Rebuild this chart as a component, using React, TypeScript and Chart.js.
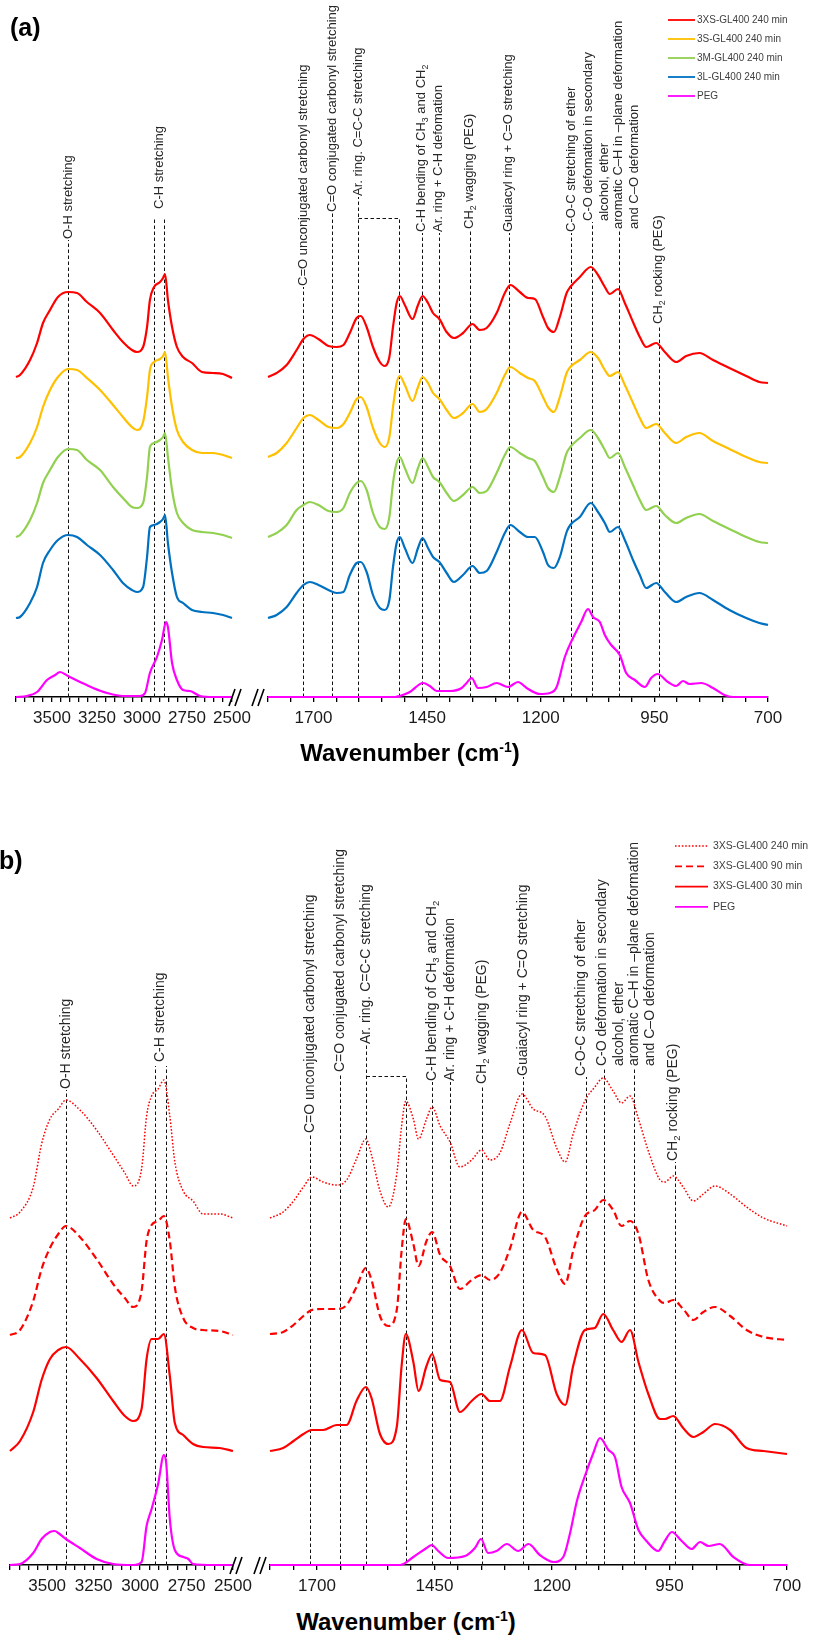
import React, { useEffect, useRef } from 'react';
import { Chart, registerables } from 'chart.js';

Chart.register(...registerables);

// ======================= DATA =======================
// ---- Panel (a): 3700–2500 cm-1 segment ----
const wnHighA = [3700, 3678, 3622, 3583, 3550, 3511, 3467, 3411, 3361, 3306, 3233, 3161, 3106, 3056, 3028, 2994, 2972, 2956, 2933, 2900, 2883, 2872, 2856, 2833, 2806, 2772, 2722, 2667, 2606, 2550, 2500];
const xs240HighA = [3.20, 3.22, 3.37, 3.54, 3.74, 3.87, 4.00, 4.05, 4.04, 3.95, 3.84, 3.67, 3.55, 3.47, 3.45, 3.50, 3.70, 3.97, 4.10, 4.15, 4.19, 4.23, 3.97, 3.70, 3.50, 3.40, 3.34, 3.25, 3.24, 3.23, 3.19];
const s240HighA = [2.39, 2.40, 2.54, 2.70, 2.90, 3.07, 3.20, 3.28, 3.27, 3.19, 3.07, 2.92, 2.80, 2.70, 2.67, 2.75, 3.00, 3.27, 3.35, 3.38, 3.41, 3.45, 3.20, 2.90, 2.67, 2.55, 2.47, 2.44, 2.44, 2.42, 2.39];
const m240HighA = [1.60, 1.62, 1.77, 1.94, 2.14, 2.27, 2.40, 2.48, 2.47, 2.37, 2.27, 2.10, 1.99, 1.90, 1.89, 1.94, 2.20, 2.50, 2.54, 2.57, 2.60, 2.64, 2.40, 2.07, 1.84, 1.74, 1.67, 1.65, 1.64, 1.62, 1.59];
const l240HighA = [0.79, 0.80, 0.94, 1.10, 1.34, 1.47, 1.57, 1.62, 1.60, 1.52, 1.42, 1.27, 1.14, 1.07, 1.05, 1.10, 1.40, 1.70, 1.72, 1.75, 1.78, 1.82, 1.54, 1.24, 1.00, 0.94, 0.87, 0.85, 0.84, 0.82, 0.79];
const wnPegHighA = [3700, 3640, 3583, 3528, 3483, 3456, 3411, 3344, 3272, 3194, 3106, 3011, 2983, 2956, 2917, 2889, 2867, 2856, 2833, 2806, 2772, 2733, 2678, 2600, 2500];
const pegHighA = [0, 0.01, 0.05, 0.17, 0.22, 0.25, 0.21, 0.15, 0.09, 0.04, 0.01, 0.01, 0.04, 0.24, 0.40, 0.57, 0.75, 0.70, 0.34, 0.17, 0.07, 0.06, 0.01, 0, 0];

// ---- Panel (a): 1800–700 cm-1 segment ----
const wnLowA = [1800, 1781, 1759, 1737, 1722, 1708, 1689, 1667, 1649, 1634, 1620, 1605, 1596, 1583, 1569, 1554, 1543, 1533, 1525, 1517, 1510, 1499, 1482, 1470, 1460, 1448, 1437, 1423, 1407, 1391, 1371, 1350, 1334, 1319, 1297, 1279, 1267, 1246, 1228, 1213, 1195, 1184, 1171, 1158, 1143, 1135, 1114, 1090, 1074, 1059, 1048, 1030, 1015, 997, 982, 968, 946, 927, 902, 880, 851, 821, 785, 748, 719, 700];
const xs240LowA = [3.20, 3.24, 3.32, 3.47, 3.58, 3.62, 3.58, 3.51, 3.50, 3.52, 3.64, 3.79, 3.81, 3.70, 3.50, 3.35, 3.31, 3.40, 3.70, 3.94, 4.01, 3.92, 3.78, 3.92, 4.01, 3.94, 3.84, 3.78, 3.65, 3.59, 3.64, 3.73, 3.67, 3.69, 3.84, 4.04, 4.12, 4.05, 3.99, 3.98, 3.80, 3.69, 3.65, 3.80, 4.04, 4.10, 4.20, 4.30, 4.22, 4.10, 4.03, 4.08, 3.94, 3.75, 3.60, 3.50, 3.54, 3.45, 3.35, 3.41, 3.44, 3.37, 3.29, 3.21, 3.15, 3.14];
const s240LowA = [2.40, 2.44, 2.54, 2.69, 2.79, 2.82, 2.77, 2.70, 2.69, 2.73, 2.84, 2.98, 3.00, 2.90, 2.69, 2.54, 2.50, 2.60, 2.90, 3.14, 3.21, 3.12, 2.96, 3.10, 3.20, 3.14, 3.04, 2.98, 2.87, 2.79, 2.84, 2.93, 2.85, 2.88, 3.04, 3.22, 3.30, 3.24, 3.19, 3.16, 3.00, 2.90, 2.85, 3.00, 3.24, 3.30, 3.37, 3.45, 3.39, 3.27, 3.21, 3.25, 3.12, 2.94, 2.79, 2.69, 2.73, 2.64, 2.54, 2.60, 2.64, 2.56, 2.48, 2.40, 2.35, 2.34];
const m240LowA = [1.60, 1.64, 1.72, 1.87, 1.92, 1.95, 1.92, 1.86, 1.85, 1.89, 2.04, 2.14, 2.16, 2.07, 1.84, 1.70, 1.68, 1.80, 2.14, 2.34, 2.40, 2.29, 2.14, 2.29, 2.39, 2.30, 2.20, 2.15, 2.04, 1.96, 2.02, 2.10, 2.04, 2.06, 2.24, 2.42, 2.50, 2.44, 2.39, 2.36, 2.20, 2.09, 2.05, 2.20, 2.44, 2.50, 2.59, 2.67, 2.59, 2.47, 2.39, 2.44, 2.30, 2.12, 1.97, 1.87, 1.91, 1.82, 1.74, 1.79, 1.83, 1.76, 1.68, 1.60, 1.55, 1.54];
const l240LowA = [0.79, 0.82, 0.90, 1.04, 1.12, 1.15, 1.12, 1.07, 1.04, 1.05, 1.22, 1.34, 1.35, 1.25, 1.02, 0.89, 0.87, 0.97, 1.30, 1.54, 1.60, 1.49, 1.34, 1.49, 1.59, 1.49, 1.40, 1.35, 1.24, 1.15, 1.22, 1.31, 1.24, 1.26, 1.45, 1.64, 1.72, 1.65, 1.60, 1.60, 1.45, 1.32, 1.29, 1.40, 1.65, 1.72, 1.80, 1.94, 1.85, 1.74, 1.65, 1.70, 1.57, 1.37, 1.22, 1.09, 1.14, 1.05, 0.95, 1.00, 1.04, 0.97, 0.87, 0.79, 0.74, 0.72];
const wnPegLowA = [1800, 1520, 1510, 1488, 1459, 1444, 1429, 1400, 1374, 1363, 1352, 1338, 1319, 1297, 1272, 1250, 1231, 1202, 1180, 1165, 1147, 1129, 1111, 1096, 1085, 1070, 1059, 1045, 1026, 1012, 993, 971, 957, 943, 920, 902, 887, 873, 847, 821, 796, 777, 700];
const pegLowA = [0, 0, 0.01, 0.05, 0.14, 0.11, 0.06, 0.06, 0.09, 0.14, 0.19, 0.09, 0.10, 0.14, 0.10, 0.15, 0.09, 0.03, 0.04, 0.10, 0.40, 0.59, 0.75, 0.88, 0.80, 0.75, 0.62, 0.52, 0.42, 0.24, 0.17, 0.10, 0.19, 0.23, 0.15, 0.11, 0.16, 0.13, 0.14, 0.09, 0.02, 0, 0];

// ---- Panel (b): 3700–2500 cm-1 segment ----
const wnHighB = [3700, 3646, 3575, 3530, 3485, 3440, 3399, 3324, 3234, 3145, 3082, 3037, 2992, 2965, 2938, 2903, 2872, 2840, 2813, 2768, 2715, 2661, 2571, 2500];
const t240HighB = [3.47, 3.53, 3.78, 4.21, 4.46, 4.56, 4.65, 4.55, 4.35, 4.10, 3.92, 3.79, 3.96, 4.49, 4.69, 4.76, 4.85, 4.49, 4.03, 3.74, 3.64, 3.51, 3.51, 3.47];
const t90HighB = [2.30, 2.35, 2.64, 2.96, 3.17, 3.31, 3.39, 3.28, 3.06, 2.81, 2.67, 2.58, 2.74, 3.24, 3.40, 3.44, 3.49, 3.24, 2.78, 2.47, 2.37, 2.35, 2.34, 2.30];
const t30HighB = [1.14, 1.24, 1.53, 1.85, 2.06, 2.15, 2.18, 2.06, 1.87, 1.64, 1.49, 1.44, 1.56, 2.06, 2.26, 2.26, 2.31, 1.89, 1.42, 1.30, 1.21, 1.18, 1.17, 1.14];
const wnPegHighB = [3700, 3646, 3575, 3530, 3485, 3458, 3440, 3399, 3324, 3234, 3145, 3037, 2992, 2965, 2938, 2903, 2872, 2860, 2840, 2813, 2768, 2740, 2715, 2600, 2500];
const pegHighB = [0, 0.01, 0.12, 0.26, 0.33, 0.34, 0.32, 0.26, 0.17, 0.06, 0.01, 0, 0.03, 0.39, 0.56, 0.81, 1.10, 1.03, 0.46, 0.15, 0.08, 0.06, 0.01, 0, 0];

// ---- Panel (b): 1800–700 cm-1 segment ----
const wnLowB = [1800, 1772, 1750, 1729, 1711, 1687, 1658, 1637, 1616, 1596, 1584, 1566, 1548, 1530, 1520, 1511, 1495, 1484, 1467, 1455, 1438, 1417, 1396, 1371, 1350, 1332, 1311, 1289, 1264, 1240, 1215, 1190, 1172, 1155, 1130, 1109, 1091, 1070, 1052, 1034, 1016, 995, 970, 960, 942, 921, 899, 878, 853, 821, 786, 750, 700];
const t240LowB = [3.47, 3.53, 3.64, 3.78, 3.88, 3.83, 3.80, 3.85, 4.06, 4.26, 4.10, 3.74, 3.58, 3.92, 4.39, 4.64, 4.46, 4.26, 4.46, 4.58, 4.39, 4.23, 3.98, 4.05, 4.15, 4.05, 4.12, 4.42, 4.71, 4.56, 4.49, 4.17, 4.03, 4.31, 4.64, 4.78, 4.87, 4.74, 4.62, 4.69, 4.46, 4.14, 3.85, 3.83, 3.89, 3.78, 3.64, 3.71, 3.79, 3.71, 3.58, 3.47, 3.39];
const t90LowB = [2.31, 2.33, 2.40, 2.49, 2.55, 2.56, 2.56, 2.60, 2.78, 2.97, 2.85, 2.49, 2.39, 2.56, 3.14, 3.46, 3.21, 2.99, 3.24, 3.33, 3.10, 2.99, 2.76, 2.85, 2.90, 2.85, 2.92, 3.17, 3.53, 3.35, 3.28, 2.96, 2.81, 3.14, 3.49, 3.55, 3.65, 3.55, 3.39, 3.44, 3.31, 2.85, 2.64, 2.62, 2.65, 2.56, 2.45, 2.53, 2.58, 2.49, 2.35, 2.28, 2.25];
const t30LowB = [1.14, 1.17, 1.24, 1.31, 1.35, 1.35, 1.40, 1.40, 1.64, 1.78, 1.67, 1.31, 1.21, 1.39, 1.99, 2.31, 2.03, 1.74, 1.99, 2.11, 1.85, 1.83, 1.53, 1.64, 1.71, 1.64, 1.64, 1.99, 2.35, 2.12, 2.10, 1.71, 1.60, 1.99, 2.35, 2.37, 2.51, 2.35, 2.23, 2.35, 2.03, 1.71, 1.46, 1.46, 1.49, 1.37, 1.28, 1.33, 1.41, 1.35, 1.17, 1.14, 1.11];
const wnPegLowB = [1800, 1523, 1495, 1467, 1456, 1442, 1421, 1385, 1364, 1351, 1336, 1318, 1296, 1272, 1250, 1226, 1197, 1176, 1162, 1147, 1130, 1112, 1098, 1080, 1066, 1052, 1034, 1016, 999, 974, 960, 945, 924, 903, 885, 867, 843, 814, 779, 700];
const pegLowB = [0, 0, 0.08, 0.17, 0.20, 0.14, 0.07, 0.09, 0.17, 0.26, 0.12, 0.14, 0.21, 0.14, 0.21, 0.10, 0.03, 0.08, 0.31, 0.64, 0.89, 1.12, 1.27, 1.15, 1.08, 0.78, 0.62, 0.35, 0.24, 0.14, 0.24, 0.33, 0.24, 0.16, 0.23, 0.19, 0.21, 0.08, 0, 0];

// ---- Legend names and tick labels ----
const namesA = ['3XS-GL400 240 min', '3S-GL400 240 min', '3M-GL400 240 min', '3L-GL400 240 min', 'PEG'];
const namesB = ['3XS-GL400 240 min', '3XS-GL400 90 min', '3XS-GL400 30 min', 'PEG'];
const tickLabelsHigh = [3500, 3250, 3000, 2750, 2500];
const tickLabelsLow = [1700, 1450, 1200, 950, 700];

// ---- Band assignments (line wavenumber, text) ----
const bandsHighA = [
  { wn: 3411, text: ['O-H stretching'] },
  { wn: 2905, text: ['C-H stretching'] },
];
const chLinesA = [2933, 2878];
const bandsLowA = [
  { wn: 1723, text: ['C=O unconjugated carbonyl stretching'] },
  { wn: 1659, text: ['C=O conjugated carbonyl stretching'] },
  { wn: 1602, text: ['Ar. ring. C=C-C stretching'] },
  { wn: 1462, text: ['C-H bending of CH_{3} and CH_{2}'] },
  { wn: 1424, text: ['Ar. ring + C-H defomation'] },
  { wn: 1356, text: ['CH_{2} wagging (PEG)'] },
  { wn: 1270, text: ['Guaiacyl ring + C=O stretching'] },
  { wn: 1133, text: ['C-O-C stretching of ether'] },
  { wn: 1087, text: ['C-O defomation in secondary', 'alcohol, ether'] },
  { wn: 1028, text: ['aromatic C\u2013H in \u2013plane deformation', 'and C\u2013O deformation'] },
  { wn: 940, text: ['CH_{2} rocking (PEG)'] },
];
const bracketA = [1602, 1512];

const bandsHighB = [
  { wn: 3398, text: ['O-H stretching'] },
  { wn: 2891, text: ['C-H stretching'] },
];
const chLinesB = [2920, 2862];
const bandsLowB = [
  { wn: 1715, text: ['C=O unconjugated carbonyl stretching'] },
  { wn: 1651, text: ['C=O conjugated carbonyl stretching'] },
  { wn: 1596, text: ['Ar. ring. C=C-C stretching'] },
  { wn: 1455, text: ['C-H bending of CH_{3} and CH_{2}'] },
  { wn: 1417, text: ['Ar. ring + C-H deformation'] },
  { wn: 1349, text: ['CH_{2} wagging (PEG)'] },
  { wn: 1262, text: ['Guaiacyl ring + C=O stretching'] },
  { wn: 1128, text: ['C-O-C stretching of ether'] },
  { wn: 1089, text: ['C-O deformation in secondary', 'alcohol, ether'] },
  { wn: 1026, text: ['aromatic C\u2013H in \u2013plane deformation', 'and C\u2013O deformation'] },
  { wn: 938, text: ['CH_{2} rocking (PEG)'] },
];
const bracketB = [1596, 1511];

// ======================= LAYOUT / STYLE =======================
const FONT = '"Liberation Sans", Arial, Helvetica, sans-serif';
const TICK_FONT = 17;
const TICK_LEN = 5;
const TICK_PAD = 6;
const AXIS_H = TICK_LEN + TICK_FONT * 1.2 + TICK_PAD * 2;

// label-start heights (same units as the spectra), aligned with band arrays
const topsHighA = [4.57, 4.87];
const chLineTopA = 4.80;
const topsLowA = [4.10, 4.84, 5.00, 4.64, 4.64, 4.67, 4.64, 4.64, 4.75, 4.67, 3.72];
const shiftLowA = [0, 0, 0, 0, 0, 0, 0, 0, -4, 0, 0]; // px shift of label relative to its line
const bracketTopA = 4.79;

const topsHighB = [4.75, 5.02];
const chLineTopB = 4.99;
const topsLowB = [4.31, 4.92, 5.20, 4.83, 4.83, 4.80, 4.88, 4.88, 4.98, 4.98, 4.03];
const shiftLowB = [0, 0, 0, 0, 0, 0, 0, -5, -2, 0, -2];
const bracketTopB = 4.89;

const RED = '#FF0000';
const YELLOW = '#FFC000';
const GREEN = '#92D050';
const BLUE = '#0070C0';
const MAGENTA = '#FF00FF';

type Series = { label: string; x: number[]; y: number[]; color: string; width: number; dash?: number[] };
type VLine = { wn: number; top: number };
type Label = { wn: number; bottom: number; lines: string[]; dx: number };
type LegendCfg = { x: number; y: number; lineLen: number; gap: number; rowH: number; font: number };

interface SegProps {
  left: number;
  top: number;
  width: number;
  area: { x0: number; x1: number; y0: number; y1: number };
  xmin: number;
  xmax: number;
  ymax: number;
  tickLabels: number[];
  series: Series[];
  vlines: VLine[];
  labels: Label[];
  labelFont: number;
  lineGap: number;
  bracket?: { a: number; b: number; top: number };
  breakSide: 'left' | 'right';
  legend?: LegendCfg;
}

function drawRich(ctx: CanvasRenderingContext2D, s: string, x: number, y: number, size: number) {
  const re = /_\{([^}]*)\}/g;
  const segs: { t: string; sub: boolean }[] = [];
  let last = 0;
  let m: RegExpExecArray | null;
  while ((m = re.exec(s))) {
    if (m.index > last) segs.push({ t: s.slice(last, m.index), sub: false });
    segs.push({ t: m[1], sub: true });
    last = m.index + m[0].length;
  }
  if (last < s.length) segs.push({ t: s.slice(last), sub: false });
  let cx = x;
  for (const sg of segs) {
    const fs = sg.sub ? size * 0.68 : size;
    ctx.font = `${fs}px ${FONT}`;
    ctx.fillText(sg.t, cx, y + (sg.sub ? size * 0.28 : 0));
    cx += ctx.measureText(sg.t).width;
  }
}

function SegChart(p: SegProps) {
  const ref = useRef<HTMLCanvasElement>(null);
  const H = Math.ceil(p.area.y1 - p.top + AXIS_H + 4);

  useEffect(() => {
    const el = ref.current;
    if (!el) return;
    const padBottom = H - (p.area.y1 - p.top) - AXIS_H;

    const deco = {
      id: 'deco',
      beforeDatasetsDraw(c: any) {
        const ctx: CanvasRenderingContext2D = c.ctx;
        const xs = c.scales.x;
        const ys = c.scales.y;
        const base = ys.getPixelForValue(0);
        ctx.save();
        ctx.strokeStyle = '#111';
        ctx.lineWidth = 1;
        ctx.setLineDash([3.5, 2.5]);
        for (const l of p.vlines) {
          const px = Math.round(xs.getPixelForValue(l.wn)) + 0.5;
          ctx.beginPath();
          ctx.moveTo(px, base);
          ctx.lineTo(px, ys.getPixelForValue(l.top));
          ctx.stroke();
        }
        if (p.bracket) {
          const pa = Math.round(xs.getPixelForValue(p.bracket.a)) + 0.5;
          const pb = Math.round(xs.getPixelForValue(p.bracket.b)) + 0.5;
          const py = Math.round(ys.getPixelForValue(p.bracket.top)) + 0.5;
          ctx.beginPath();
          ctx.moveTo(pa, py);
          ctx.lineTo(pb, py);
          ctx.lineTo(pb, base);
          ctx.stroke();
        }
        ctx.restore();
      },
      afterDraw(c: any) {
        const ctx: CanvasRenderingContext2D = c.ctx;
        const xs = c.scales.x;
        const ys = c.scales.y;
        const ca = c.chartArea;
        const base = ys.getPixelForValue(0);
        ctx.save();
        // band labels
        ctx.fillStyle = '#262626';
        ctx.textBaseline = 'middle';
        ctx.textAlign = 'left';
        for (const lb of p.labels) {
          const px = xs.getPixelForValue(lb.wn) + lb.dx;
          const py = ys.getPixelForValue(lb.bottom) - 1;
          ctx.save();
          ctx.translate(px, py);
          ctx.rotate(-Math.PI / 2);
          lb.lines.forEach((t, i) => drawRich(ctx, t, 0, i * p.lineGap, p.labelFont));
          ctx.restore();
        }
        // axis break marks
        ctx.strokeStyle = '#000';
        ctx.lineWidth = 1.6;
        ctx.setLineDash([]);
        const startX = p.breakSide === 'right' ? ca.right - 3 : ca.left - 16;
        for (let k = 0; k < 2; k++) {
          const x0 = startX + k * 6;
          ctx.beginPath();
          ctx.moveTo(x0, base + 9);
          ctx.lineTo(x0 + 6, base - 8);
          ctx.stroke();
        }
        // legend
        if (p.legend) {
          const lg = p.legend;
          c.data.datasets.forEach((ds: any, i: number) => {
            const y = lg.y + i * lg.rowH - p.top;
            const x = lg.x - p.left;
            ctx.strokeStyle = ds.borderColor;
            ctx.lineWidth = Math.min(ds.borderWidth, 1.8);
            ctx.setLineDash(ds.borderDash || []);
            ctx.beginPath();
            ctx.moveTo(x, y);
            ctx.lineTo(x + lg.lineLen, y);
            ctx.stroke();
            ctx.setLineDash([]);
            ctx.fillStyle = '#404040';
            ctx.font = `${lg.font}px ${FONT}`;
            ctx.textBaseline = 'middle';
            ctx.textAlign = 'left';
            ctx.fillText(ds.label, x + lg.lineLen + lg.gap, y);
          });
        }
        ctx.restore();
      },
    };

    const chart = new Chart(el, {
      type: 'line',
      data: {
        datasets: p.series.map((s) => ({
          label: s.label,
          data: s.x.map((wn, i) => ({ x: wn, y: s.y[i] })),
          borderColor: s.color,
          backgroundColor: s.color,
          borderWidth: s.width,
          borderDash: s.dash || [],
          pointRadius: 0,
          fill: false,
          cubicInterpolationMode: 'monotone',
          clip: 8,
        })),
      },
      options: {
        responsive: false,
        animation: false,
        devicePixelRatio: 1,
        events: [],
        layout: {
          padding: {
            left: p.area.x0 - p.left,
            right: p.left + p.width - p.area.x1,
            top: p.area.y0 - p.top,
            bottom: padBottom,
          },
        },
        plugins: { legend: { display: false }, tooltip: { enabled: false }, title: { display: false } },
        scales: {
          x: {
            type: 'linear',
            min: p.xmin,
            max: p.xmax,
            reverse: true,
            ticks: {
              stepSize: 50,
              autoSkip: false,
              maxRotation: 0,
              minRotation: 0,
              padding: TICK_PAD,
              color: '#1a1a1a',
              font: { family: FONT, size: TICK_FONT },
              callback: (v: any) => (p.tickLabels.includes(Number(v)) ? String(v) : ''),
            },
            grid: {
              display: true,
              drawOnChartArea: false,
              drawTicks: true,
              tickLength: TICK_LEN,
              color: '#000',
              lineWidth: 1.3,
            },
            border: { display: true, color: '#000', width: 1.6 },
          },
          y: { display: false, min: 0, max: p.ymax },
        },
      },
      plugins: [deco],
    } as any);
    return () => chart.destroy();
  }, []);

  return (
    <canvas
      ref={ref}
      width={p.width}
      height={H}
      style={{ position: 'absolute', left: p.left, top: p.top, width: p.width, height: H }}
    />
  );
}

const titleStyle: React.CSSProperties = {
  position: 'absolute',
  transform: 'translate(-50%, -50%)',
  font: `bold 24px ${FONT}`,
  whiteSpace: 'nowrap',
  color: '#000',
  lineHeight: '28px',
};

function AxisTitle({ x, y }: { x: number; y: number }) {
  return (
    <div style={{ ...titleStyle, left: x, top: y }}>
      Wavenumber (cm
      <span style={{ fontSize: 14, position: 'relative', top: -9 }}>-1</span>)
    </div>
  );
}

export default function App() {
  const areaLeftA = { x0: 16, x1: 232, y0: 10, y1: 697 };
  const areaRightA = { x0: 268, x1: 768, y0: 10, y1: 697 };
  const areaLeftB = { x0: 10, x1: 233, y0: 840, y1: 1565 };
  const areaRightB = { x0: 270, x1: 787, y0: 840, y1: 1565 };

  const highA: Series[] = [
    { label: namesA[0], x: wnHighA, y: xs240HighA, color: RED, width: 2.2 },
    { label: namesA[1], x: wnHighA, y: s240HighA, color: YELLOW, width: 2.2 },
    { label: namesA[2], x: wnHighA, y: m240HighA, color: GREEN, width: 2.2 },
    { label: namesA[3], x: wnHighA, y: l240HighA, color: BLUE, width: 2.2 },
    { label: namesA[4], x: wnPegHighA, y: pegHighA, color: MAGENTA, width: 2.2 },
  ];
  const lowA: Series[] = [
    { label: namesA[0], x: wnLowA, y: xs240LowA, color: RED, width: 2.2 },
    { label: namesA[1], x: wnLowA, y: s240LowA, color: YELLOW, width: 2.2 },
    { label: namesA[2], x: wnLowA, y: m240LowA, color: GREEN, width: 2.2 },
    { label: namesA[3], x: wnLowA, y: l240LowA, color: BLUE, width: 2.2 },
    { label: namesA[4], x: wnPegLowA, y: pegLowA, color: MAGENTA, width: 2.2 },
  ];
  const highB: Series[] = [
    { label: namesB[0], x: wnHighB, y: t240HighB, color: RED, width: 1.5, dash: [1.6, 1.8] },
    { label: namesB[1], x: wnHighB, y: t90HighB, color: RED, width: 2.2, dash: [7, 4] },
    { label: namesB[2], x: wnHighB, y: t30HighB, color: RED, width: 2.2 },
    { label: namesB[3], x: wnPegHighB, y: pegHighB, color: MAGENTA, width: 2.2 },
  ];
  const lowB: Series[] = [
    { label: namesB[0], x: wnLowB, y: t240LowB, color: RED, width: 1.5, dash: [1.6, 1.8] },
    { label: namesB[1], x: wnLowB, y: t90LowB, color: RED, width: 2.2, dash: [7, 4] },
    { label: namesB[2], x: wnLowB, y: t30LowB, color: RED, width: 2.2 },
    { label: namesB[3], x: wnPegLowB, y: pegLowB, color: MAGENTA, width: 2.2 },
  ];

  const vHighA: VLine[] = [
    { wn: bandsHighA[0].wn, top: topsHighA[0] },
    { wn: chLinesA[0], top: chLineTopA },
    { wn: chLinesA[1], top: chLineTopA },
  ];
  const vLowA: VLine[] = bandsLowA.map((b, i) => ({ wn: b.wn, top: topsLowA[i] }));
  const vHighB: VLine[] = [
    { wn: bandsHighB[0].wn, top: topsHighB[0] },
    { wn: chLinesB[0], top: chLineTopB },
    { wn: chLinesB[1], top: chLineTopB },
  ];
  const vLowB: VLine[] = bandsLowB.map((b, i) => ({ wn: b.wn, top: topsLowB[i] }));

  const lHighA: Label[] = bandsHighA.map((b, i) => ({ wn: b.wn, bottom: topsHighA[i], lines: b.text, dx: 0 }));
  const lLowA: Label[] = bandsLowA.map((b, i) => ({ wn: b.wn, bottom: topsLowA[i], lines: b.text, dx: shiftLowA[i] }));
  const lHighB: Label[] = bandsHighB.map((b, i) => ({ wn: b.wn, bottom: topsHighB[i], lines: b.text, dx: 0 }));
  const lLowB: Label[] = bandsLowB.map((b, i) => ({ wn: b.wn, bottom: topsLowB[i], lines: b.text, dx: shiftLowB[i] }));

  return (
    <div style={{ position: 'absolute', left: 0, top: 0, width: 817, height: 1635, background: '#fff', overflow: 'hidden' }}>
      <SegChart
        left={0} top={0} width={262} area={areaLeftA}
        xmin={2500} xmax={3700} ymax={6.87} tickLabels={tickLabelsHigh}
        series={highA} vlines={vHighA} labels={lHighA} labelFont={13} lineGap={16} breakSide="right"
      />
      <SegChart
        left={240} top={0} width={577} area={areaRightA}
        xmin={700} xmax={1800} ymax={6.87} tickLabels={tickLabelsLow}
        series={lowA} vlines={vLowA} labels={lLowA} labelFont={13} lineGap={16} breakSide="left"
        bracket={{ a: bracketA[0], b: bracketA[1], top: bracketTopA }}
        legend={{ x: 668, y: 20, lineLen: 27, gap: 2, rowH: 19, font: 10 }}
      />
      <SegChart
        left={0} top={830} width={262} area={areaLeftB}
        xmin={2500} xmax={3700} ymax={7.25} tickLabels={tickLabelsHigh}
        series={highB} vlines={vHighB} labels={lHighB} labelFont={14} lineGap={16.5} breakSide="right"
      />
      <SegChart
        left={242} top={830} width={575} area={areaRightB}
        xmin={700} xmax={1800} ymax={7.25} tickLabels={tickLabelsLow}
        series={lowB} vlines={vLowB} labels={lLowB} labelFont={14} lineGap={16.5} breakSide="left"
        bracket={{ a: bracketB[0], b: bracketB[1], top: bracketTopB }}
        legend={{ x: 675, y: 846, lineLen: 33, gap: 5, rowH: 20.3, font: 10.5 }}
      />
      <div style={{ position: 'absolute', left: 10, top: 13, font: `bold 25px ${FONT}`, lineHeight: '28px', color: '#000' }}>(a)</div>
      <div style={{ position: 'absolute', left: -1, top: 846, font: `bold 25px ${FONT}`, lineHeight: '28px', color: '#000' }}>b)</div>
      <AxisTitle x={410} y={754} />
      <AxisTitle x={406} y={1623} />
    </div>
  );
}
